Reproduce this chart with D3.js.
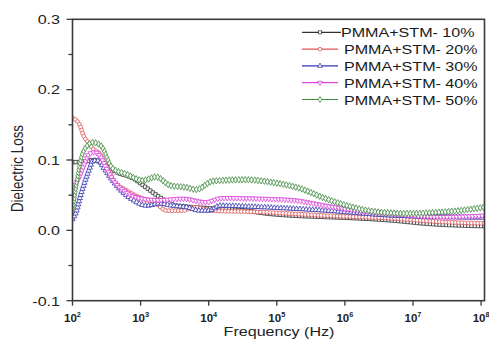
<!DOCTYPE html>
<html>
<head>
<meta charset="utf-8">
<script src="https://cdn.jsdelivr.net/npm/d3@7"></script>
<style>
  body { margin: 0; background: #fff; }
  text { font-family: "Liberation Sans", Arial, sans-serif; }
</style>
</head>
<body>
<svg id="chart" width="489" height="349"></svg>
<script>
// series names and styles
var seriesNames = ["PMMA+STM- 10%", "PMMA+STM- 20%", "PMMA+STM- 30%", "PMMA+STM- 40%", "PMMA+STM- 50%"];
var colors = ["#333333", "#e05555", "#3535b0", "#dd44dd", "#3d8a3d"];
var symbols = [d3.symbolSquare, d3.symbolCircle, d3.symbolTriangle, "down", d3.symbolDiamond];

// log10(frequency) and dielectric loss
var lg10 = [2.0, 2.1, 2.2, 2.3, 2.45, 2.64, 2.89, 3.08, 3.28, 3.52, 3.76, 4.06, 4.55, 4.84, 5.23, 5.72, 6.21, 6.7, 7.19, 7.68, 8.05];
var loss10 = [0.097, 0.097, 0.098, 0.100, 0.095, 0.083, 0.074, 0.061, 0.047, 0.035, 0.033, 0.031, 0.028, 0.024, 0.021, 0.019, 0.017, 0.014, 0.0095, 0.007, 0.006];

var lg20 = [2.0, 2.11, 2.16, 2.23, 2.3, 2.4, 2.5, 2.6, 2.79, 3.03, 3.23, 3.38, 3.62, 3.77, 4.06, 4.75, 5.72, 6.7, 7.43, 8.05];
var loss20 = [0.160, 0.149, 0.135, 0.125, 0.116, 0.109, 0.090, 0.071, 0.057, 0.045, 0.038, 0.028, 0.028, 0.033, 0.028, 0.026, 0.021, 0.017, 0.012, 0.010];

var lg30 = [2.0, 2.06, 2.11, 2.18, 2.25, 2.3, 2.38, 2.45, 2.55, 2.69, 2.89, 3.09, 3.28, 3.47, 3.67, 3.87, 4.01, 4.16, 4.75, 5.72, 6.7, 7.43, 8.05];
var loss30 = [0.016, 0.028, 0.047, 0.069, 0.088, 0.099, 0.099, 0.090, 0.076, 0.059, 0.043, 0.035, 0.038, 0.035, 0.033, 0.028, 0.028, 0.035, 0.033, 0.028, 0.021, 0.019, 0.018];

var lg40 = [2.0, 2.03, 2.11, 2.18, 2.25, 2.33, 2.4, 2.5, 2.6, 2.79, 3.03, 3.28, 3.62, 3.96, 4.2, 4.75, 5.23, 5.72, 6.21, 6.7, 7.43, 8.05];
var loss40 = [0.052, 0.060, 0.078, 0.095, 0.109, 0.111, 0.106, 0.088, 0.071, 0.054, 0.045, 0.043, 0.045, 0.040, 0.046, 0.045, 0.043, 0.035, 0.028, 0.024, 0.019, 0.021];

var lg50 = [2.0, 2.05, 2.1, 2.15, 2.3, 2.42, 2.59, 2.79, 3.03, 3.23, 3.43, 3.67, 3.82, 4.06, 4.55, 4.94, 5.33, 5.72, 6.11, 6.5, 6.95, 7.43, 7.68, 8.05];
var loss50 = [0.028, 0.060, 0.090, 0.110, 0.125, 0.120, 0.088, 0.080, 0.071, 0.076, 0.064, 0.061, 0.058, 0.070, 0.072, 0.068, 0.060, 0.045, 0.033, 0.026, 0.024, 0.026, 0.028, 0.033];

var xs = [lg10, lg20, lg30, lg40, lg50];
var ys = [loss10, loss20, loss30, loss40, loss50];

var xTicks = [2, 3, 4, 5, 6, 7, 8];
var yTicks = [-0.1, 0.0, 0.1, 0.2, 0.3];

var svg = d3.select("#chart");
var pLeft = 72.5, pRight = 484.5, pTop = 19.3, pBottom = 300.7;
var stretch = 1.2; // the source picture is widened, text included

var x = d3.scaleLinear().domain([2, 8.05]).range([pLeft, pRight]);
var y = d3.scaleLinear().domain([-0.1, 0.3]).range([pBottom, pTop]);

// clip
svg.append("clipPath").attr("id", "clip").append("rect")
  .attr("x", pLeft).attr("y", pTop).attr("width", pRight - pLeft).attr("height", pBottom - pTop);

var line = d3.line().x(function(d) { return x(d[0]); }).y(function(d) { return y(d[1]); })
  .curve(d3.curveMonotoneX);

function symPath(s, size) {
  if (s === "down") return d3.symbol().type(d3.symbolTriangle).size(size)();
  return d3.symbol().type(s).size(size)();
}

function wideText(px, py, k) {
  return svg.append("text").attr("transform", "translate(" + px + "," + py + ") scale(" + (k || stretch) + ",1)");
}

var plot = svg.append("g").attr("clip-path", "url(#clip)");

// draw series 10%, 20%, 30%, 40%, 50%
xs.forEach(function(xv, i) {
  var pts = xv.map(function(v, j) { return [v, ys[i][j]]; });
  var g = plot.append("g");
  var p = g.append("path").attr("d", line(pts))
    .attr("fill", "none").attr("stroke", colors[i]).attr("stroke-width", 1);
  // open markers placed along the drawn path
  var node = p.node(), len = node.getTotalLength();
  for (var l = 0; l <= len; l += 3.2) {
    var q = node.getPointAtLength(l);
    g.append("path").attr("d", symPath(symbols[i], 12))
      .attr("transform", "translate(" + q.x + "," + q.y + ")" + (symbols[i] === "down" ? " rotate(180)" : ""))
      .attr("fill", "#fff").attr("stroke", colors[i]).attr("stroke-width", 0.8);
  }
});

// frame
svg.append("rect").attr("x", pLeft).attr("y", pTop).attr("width", pRight - pLeft).attr("height", pBottom - pTop)
  .attr("fill", "none").attr("stroke", "#3a3a3a").attr("stroke-width", 1.6);

// y ticks (major + minor)
d3.range(-0.1, 0.301, 0.05).forEach(function(v) {
  var major = Math.abs(Math.round(v * 10) - v * 10) < 1e-6;
  svg.append("line").attr("x1", pLeft).attr("x2", pLeft - (major ? 6 : 4))
    .attr("y1", y(v)).attr("y2", y(v)).attr("stroke", "#3a3a3a").attr("stroke-width", 1.3);
});
yTicks.forEach(function(v) {
  wideText(60, y(v) + 4.8)
    .attr("text-anchor", "end").attr("font-size", 13.4).attr("fill", "#222")
    .text(v.toFixed(1));
});

// x ticks
xTicks.forEach(function(v) {
  svg.append("line").attr("x1", x(v)).attr("x2", x(v)).attr("y1", pBottom).attr("y2", pBottom + 5)
    .attr("stroke", "#3a3a3a").attr("stroke-width", 1.3);
  var t = wideText(x(v), 321.5, 1.05)
    .attr("text-anchor", "middle").attr("font-size", 11).attr("font-weight", "bold").attr("fill", "#222");
  t.append("tspan").text("10");
  t.append("tspan").attr("dy", -5).attr("font-size", 7).text(v);
});

// axis titles
wideText(279, 336).attr("text-anchor", "middle")
  .attr("font-size", 13.4).attr("fill", "#222").text("Frequency (Hz)");
svg.append("text").attr("transform", "translate(23,168.5) scale(" + stretch + ",1) rotate(-90)")
  .attr("text-anchor", "middle").attr("font-size", 13.4).attr("fill", "#222").text("Dielectric Loss");

// legend
seriesNames.forEach(function(name, i) {
  var ly = 32.3 + i * 16.8;
  svg.append("line").attr("x1", 302).attr("x2", i === 0 ? 341 : 338).attr("y1", ly).attr("y2", ly)
    .attr("stroke", colors[i]).attr("stroke-width", 1.2);
  svg.append("path").attr("d", symPath(symbols[i], 10))
    .attr("transform", "translate(320," + ly + ")" + (symbols[i] === "down" ? " rotate(180)" : ""))
    .attr("fill", "#fff").attr("stroke", colors[i]).attr("stroke-width", 0.8);
  wideText(i === 0 ? 341 : 344, ly + 5)
    .attr("font-size", 13.4).attr("fill", "#1a1a1a").text(name);
});
</script>
</body>
</html>
